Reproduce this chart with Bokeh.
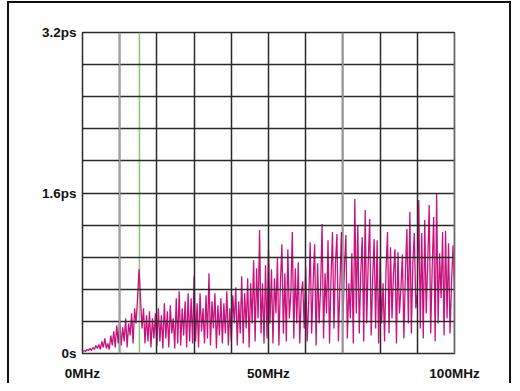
from bokeh.plotting import figure
from bokeh.models import FixedTicker, Span, Range1d
from bokeh.embed import file_html
from bokeh.resources import INLINE

# ---- data ----
freq_step_mhz = 0.4
jitter_ps = [
    # 0 - 9.6 MHz
    0.02, 0.03, 0.02, 0.04, 0.03, 0.05, 0.03, 0.06, 0.04, 0.08,
    0.05, 0.09, 0.04, 0.12, 0.06, 0.15, 0.05, 0.10, 0.04, 0.18,
    0.08, 0.22, 0.06, 0.28, 0.10,
    # 10 - 19.6 MHz
    0.32, 0.08, 0.26, 0.12, 0.35, 0.06, 0.30, 0.18, 0.40, 0.10,
    0.45, 0.30, 0.55, 0.84, 0.55, 0.25, 0.45, 0.10, 0.38, 0.12,
    0.42, 0.06, 0.35, 0.15, 0.40,
    # 20 - 29.6 MHz
    0.08, 0.45, 0.12, 0.38, 0.05, 0.50, 0.15, 0.42, 0.06, 0.48,
    0.20, 0.35, 0.05, 0.55, 0.10, 0.62, 0.08, 0.45, 0.18, 0.52,
    0.06, 0.60, 0.12, 0.55, 0.10,
    # 30 - 39.6 MHz
    0.77, 0.12, 0.50, 0.06, 0.60, 0.22, 0.45, 0.10, 0.58, 0.15,
    0.80, 0.08, 0.52, 0.25, 0.60, 0.05, 0.48, 0.18, 0.55, 0.10,
    0.50, 0.20, 0.62, 0.08, 0.45,
    # 40 - 49.6 MHz
    0.12, 0.58, 0.30, 0.66, 0.08, 0.52, 0.20, 0.77, 0.10, 0.60,
    0.25, 0.75, 0.06, 0.70, 0.30, 0.93, 0.12, 0.85, 0.35, 1.23,
    0.20, 0.70, 0.10, 0.88, 0.15,
    # 50 - 59.6 MHz
    1.04, 0.30, 0.84, 0.10, 0.75, 0.40, 0.95, 0.08, 0.70, 1.09,
    0.20, 0.80, 0.12, 1.04, 0.35, 0.60, 1.21, 0.15, 0.85, 0.30,
    0.91, 0.10, 0.60, 0.72, 0.25,
    # 60 - 69.6 MHz
    0.86, 0.12, 0.50, 1.11, 0.20, 0.70, 1.09, 0.08, 0.90, 0.30,
    0.65, 1.29, 0.15, 0.80, 0.40, 1.13, 0.10, 0.75, 1.21, 0.25,
    0.90, 1.19, 0.12, 0.70, 1.21,
    # 70 - 79.6 MHz
    0.30, 0.85, 1.18, 0.15, 0.70, 0.35, 1.00, 0.10, 1.54, 0.40,
    1.28, 0.20, 0.80, 1.16, 0.12, 1.43, 0.30, 0.90, 1.34, 0.18,
    0.75, 1.14, 0.25, 1.13, 0.10,
    # 80 - 89.6 MHz
    0.95, 0.30, 0.70, 0.12, 0.85, 1.21, 0.20, 1.06, 0.35, 0.80,
    1.04, 0.10, 1.01, 0.40, 0.65, 0.99, 0.15, 0.80, 1.24, 0.30,
    1.41, 0.20, 0.90, 1.20, 0.45,
    # 90 - 99.6 MHz
    0.60, 1.53, 0.25, 1.20, 0.15, 1.33, 0.40, 0.90, 1.48, 0.20,
    0.85, 1.36, 0.12, 1.59, 0.30, 1.00, 0.55, 1.21, 0.18, 1.22,
    0.35, 1.10, 0.20, 0.70, 1.08,
    # 100 MHz
    0.60,
]
freq_mhz = [round(i * freq_step_mhz, 2) for i in range(len(jitter_ps))]

x_ticks = [0, 50, 100]
x_labels = ["0MHz", "50MHz", "100MHz"]
y_ticks = [0, 1.6, 3.2]
y_labels = ["0s", "1.6ps", "3.2ps"]
x_grid = [0, 10, 20, 30, 40, 50, 60, 70, 80, 90, 100]
x_grid_light = [10, 70, 100]
y_grid = [0, 0.32, 0.64, 0.96, 1.28, 1.6, 1.92, 2.24, 2.56, 2.88, 3.2]
marker_mhz = 15.3

# ---- figure ----
p = figure(width=511, height=383, output_backend="svg", toolbar_location=None,
           x_range=Range1d(0, 100), y_range=Range1d(0, 3.2),
           min_border_left=82, min_border_right=57, min_border_top=32, min_border_bottom=29)
p.border_fill_color = None
p.background_fill_color = "white"
# outer frame of the picture (left, top, right edges)
p.styles = {
    "background-image": ("linear-gradient(#111,#111), linear-gradient(#111,#111), "
                         "linear-gradient(#111,#111)"),
    "background-position": "7px 1px, 7px 1px, 509px 1px",
    "background-size": "2px 100%, 504px 2px, 2px 100%",
    "background-repeat": "no-repeat",
}
p.outline_line_color = "#2a2a2a"
p.outline_line_width = 1.5

GRID = "#2a2a2a"
p.xgrid.ticker = FixedTicker(ticks=x_grid)
p.ygrid.ticker = FixedTicker(ticks=y_grid)
for g in (p.xgrid, p.ygrid):
    g.grid_line_color = GRID
    g.grid_line_width = 1.5
    g.level = "overlay"

# green marker line
p.add_layout(Span(location=marker_mhz, dimension="height", line_color="#86c773",
                  line_width=1.5, level="underlay"))

p.line(freq_mhz, jitter_ps, line_color="#c8127e", line_width=1.3)

for loc in x_grid_light:
    p.add_layout(Span(location=loc, dimension="height", line_color="#a0a0a0",
                      line_width=1.6, level="overlay"))

font = "Liberation Sans"
for ax, ticks, labels in ((p.xaxis, x_ticks, x_labels), (p.yaxis, y_ticks, y_labels)):
    ax.ticker = FixedTicker(ticks=ticks)
    ax.major_label_overrides = {t: l for t, l in zip(ticks, labels)}
    ax.axis_line_color = None
    ax.major_tick_line_color = None
    ax.minor_tick_line_color = None
    ax.major_tick_out = 0
    ax.major_tick_in = 0
    ax.major_label_text_font = font
    ax.major_label_text_font_style = "bold"
    ax.major_label_text_font_size = "13.5px"
    ax.major_label_text_color = "#111111"
p.xaxis.major_label_standoff = 12
p.yaxis.major_label_standoff = 6

open("out.html", "w").write(file_html(p, INLINE))
